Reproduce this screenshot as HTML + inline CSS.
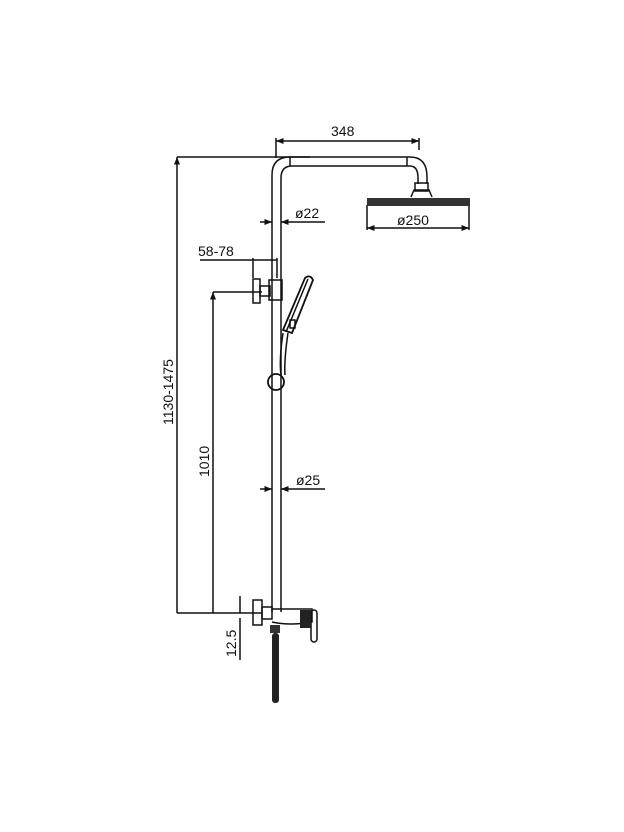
<!DOCTYPE html>
<html><head><style>body{margin:0;background:#fff}svg{display:block}text{font-family:"Liberation Sans",sans-serif;fill:#111}</style></head><body>
<svg width="624" height="832" viewBox="0 0 624 832" xmlns="http://www.w3.org/2000/svg">
<defs><marker id="a" markerWidth="6" markerHeight="6" refX="5" refY="3" orient="auto-start-reverse"><path d="M0,1 L5,3 L0,5z" fill="#111"/></marker></defs>
<g stroke="#111" stroke-width="1.5" fill="none">
<path d="M272,612 V175 Q272,157 290,157 H410 Q427,157 427,177 V184"/>
<path d="M281,612 V178 Q281,166 292,166 H410 Q418,166 418,178 V184"/>
<line x1="290" y1="157" x2="290" y2="166"/><line x1="407" y1="157" x2="407" y2="166"/>
<rect x="415" y="183" width="13" height="8"/>
<path d="M411,197 L414,190 H429 L432,197"/>
<line x1="276" y1="141" x2="419" y2="141" marker-start="url(#a)" marker-end="url(#a)"/>
<line x1="276" y1="138" x2="276" y2="158"/><line x1="419" y1="138" x2="419" y2="150"/>
<line x1="177" y1="613" x2="177" y2="157" marker-end="url(#a)"/>
<line x1="177" y1="157" x2="310" y2="157"/>
<line x1="177" y1="613" x2="262" y2="613"/>
<line x1="213" y1="613" x2="213" y2="292" marker-end="url(#a)"/>
<line x1="213" y1="292" x2="262" y2="292"/>
<line x1="260" y1="222" x2="272" y2="222" marker-end="url(#a)"/>
<line x1="281" y1="222" x2="325" y2="222" marker-start="url(#a)"/>
<line x1="367" y1="228" x2="469" y2="228" marker-start="url(#a)" marker-end="url(#a)"/>
<line x1="367" y1="205" x2="367" y2="230"/><line x1="469" y1="205" x2="469" y2="230"/>
<line x1="200" y1="260" x2="277" y2="260"/>
<line x1="253" y1="258" x2="253" y2="278"/><line x1="277" y1="258" x2="277" y2="278"/>
<rect x="253" y="279" width="7" height="24"/><rect x="260" y="286" width="10" height="10"/><rect x="269" y="280" width="13" height="20"/>
<path d="M283,330 L305,278 Q310,274 313,280 L292,333 Z" stroke-width="1.8"/>
<path d="M286,332 L308,279"/>
<rect x="290" y="320" width="5" height="8"/>
<path d="M283,333 Q279,360 281,375"/><path d="M288,333 Q284,360 285,375"/>
<circle cx="276" cy="382" r="8" stroke-width="1.8"/>
<line x1="260" y1="489" x2="272" y2="489" marker-end="url(#a)"/>
<line x1="281" y1="489" x2="325" y2="489" marker-start="url(#a)"/>
<rect x="253" y="600" width="9" height="25"/><rect x="262" y="607" width="10" height="12"/>
<path d="M272,609 H312 V622 Q290,626 272,622"/>
<rect x="311" y="610" width="6" height="32" rx="3"/>
<line x1="240" y1="596" x2="240" y2="613"/><line x1="240" y1="618" x2="240" y2="660"/>
</g>
<rect x="367" y="198" width="103" height="8" fill="#333"/>
<rect x="300" y="610" width="11" height="18" fill="#222"/>
<rect x="270" y="625" width="10" height="8" fill="#333"/>
<rect x="272" y="633" width="7" height="70" rx="3" fill="#222"/>
<g font-size="14">
<text x="331" y="136">348</text>
<text x="295" y="218">ø22</text>
<text x="397" y="225">ø250</text>
<text x="198" y="256">58-78</text>
<text x="296" y="485">ø25</text>
<text transform="translate(173,425) rotate(-90)">1130-1475</text>
<text transform="translate(209,477) rotate(-90)">1010</text>
<text transform="translate(236,657) rotate(-90)">12.5</text>
</g>
</svg>
</body></html>
